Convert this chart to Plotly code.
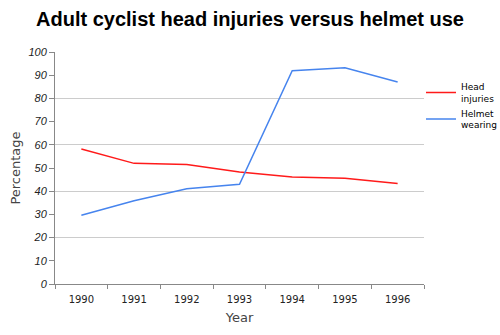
import plotly.graph_objects as go

years = ["1990", "1991", "1992", "1993", "1994", "1995", "1996"]
head_injuries = [58.2, 52.0, 51.5, 48.3, 46.1, 45.6, 43.3]
helmet_wearing = [29.6, 35.9, 41.1, 43.0, 91.9, 93.2, 87.1]
y_ticks = list(range(0, 101, 10))
grid_ticks = list(range(0, 101, 20))

fig = go.Figure()
fig.add_trace(go.Scatter(x=years, y=head_injuries, mode="lines",
                         name="Head<br>injuries",
                         line=dict(color="#ff1a1a", width=1.5)))
fig.add_trace(go.Scatter(x=years, y=helmet_wearing, mode="lines",
                         name="Helmet<br>wearing",
                         line=dict(color="#4684ee", width=1.5)))
# invisible trace to hold the 20-step grid axis
fig.add_trace(go.Scatter(x=years, y=helmet_wearing, yaxis="y2", mode="lines",
                         line=dict(width=0), opacity=0, showlegend=False,
                         hoverinfo="skip"))

fig.update_layout(
    width=500, height=335,
    margin=dict(l=55, r=76, t=52, b=51, autoexpand=False),
    paper_bgcolor="white", plot_bgcolor="white",
    title=dict(text="<b>Adult cyclist head injuries versus helmet use</b>",
               x=0.5, xanchor="center", y=0.943, yanchor="middle",
               font=dict(family="Liberation Sans, Arial", size=20, color="black")),
    xaxis=dict(type="category", range=[-0.5, 6.5], tickson="boundaries",
               ticks="outside", ticklen=4, ticklabelstandoff=6,
               tickcolor="#888888", showline=True, linecolor="#888888", linewidth=1,
               showgrid=False, zeroline=False,
               tickfont=dict(family="DejaVu Sans", size=10, color="#222222"),
               title=dict(text="Year", standoff=8,
                          font=dict(family="DejaVu Sans", size=13, color="#444444"))),
    yaxis=dict(range=[0, 100], tickmode="array", tickvals=y_ticks,
               ticks="outside", ticklen=5, tickcolor="#888888",
               showline=True, linecolor="#888888", linewidth=1,
               showgrid=False, zeroline=False,
               tickfont=dict(family="Liberation Sans, Arial", size=11, color="#222222",
                             style="italic"),
               title=dict(text="Percentage", standoff=4,
                          font=dict(family="DejaVu Sans", size=13, color="#444444"))),
    yaxis2=dict(range=[0, 100], overlaying="y", tickmode="array", tickvals=grid_ticks,
                showticklabels=False, showgrid=True, gridcolor="#cccccc", gridwidth=1,
                zeroline=False, showline=False, ticks=""),
    legend=dict(xref="container", yref="container", x=0.842, xanchor="left",
                y=0.778, yanchor="top",
                font=dict(family="DejaVu Sans", size=9, color="black"),
                itemwidth=30, tracegroupgap=4, bgcolor="rgba(0,0,0,0)"),
)

fig.write_html("out.html")
